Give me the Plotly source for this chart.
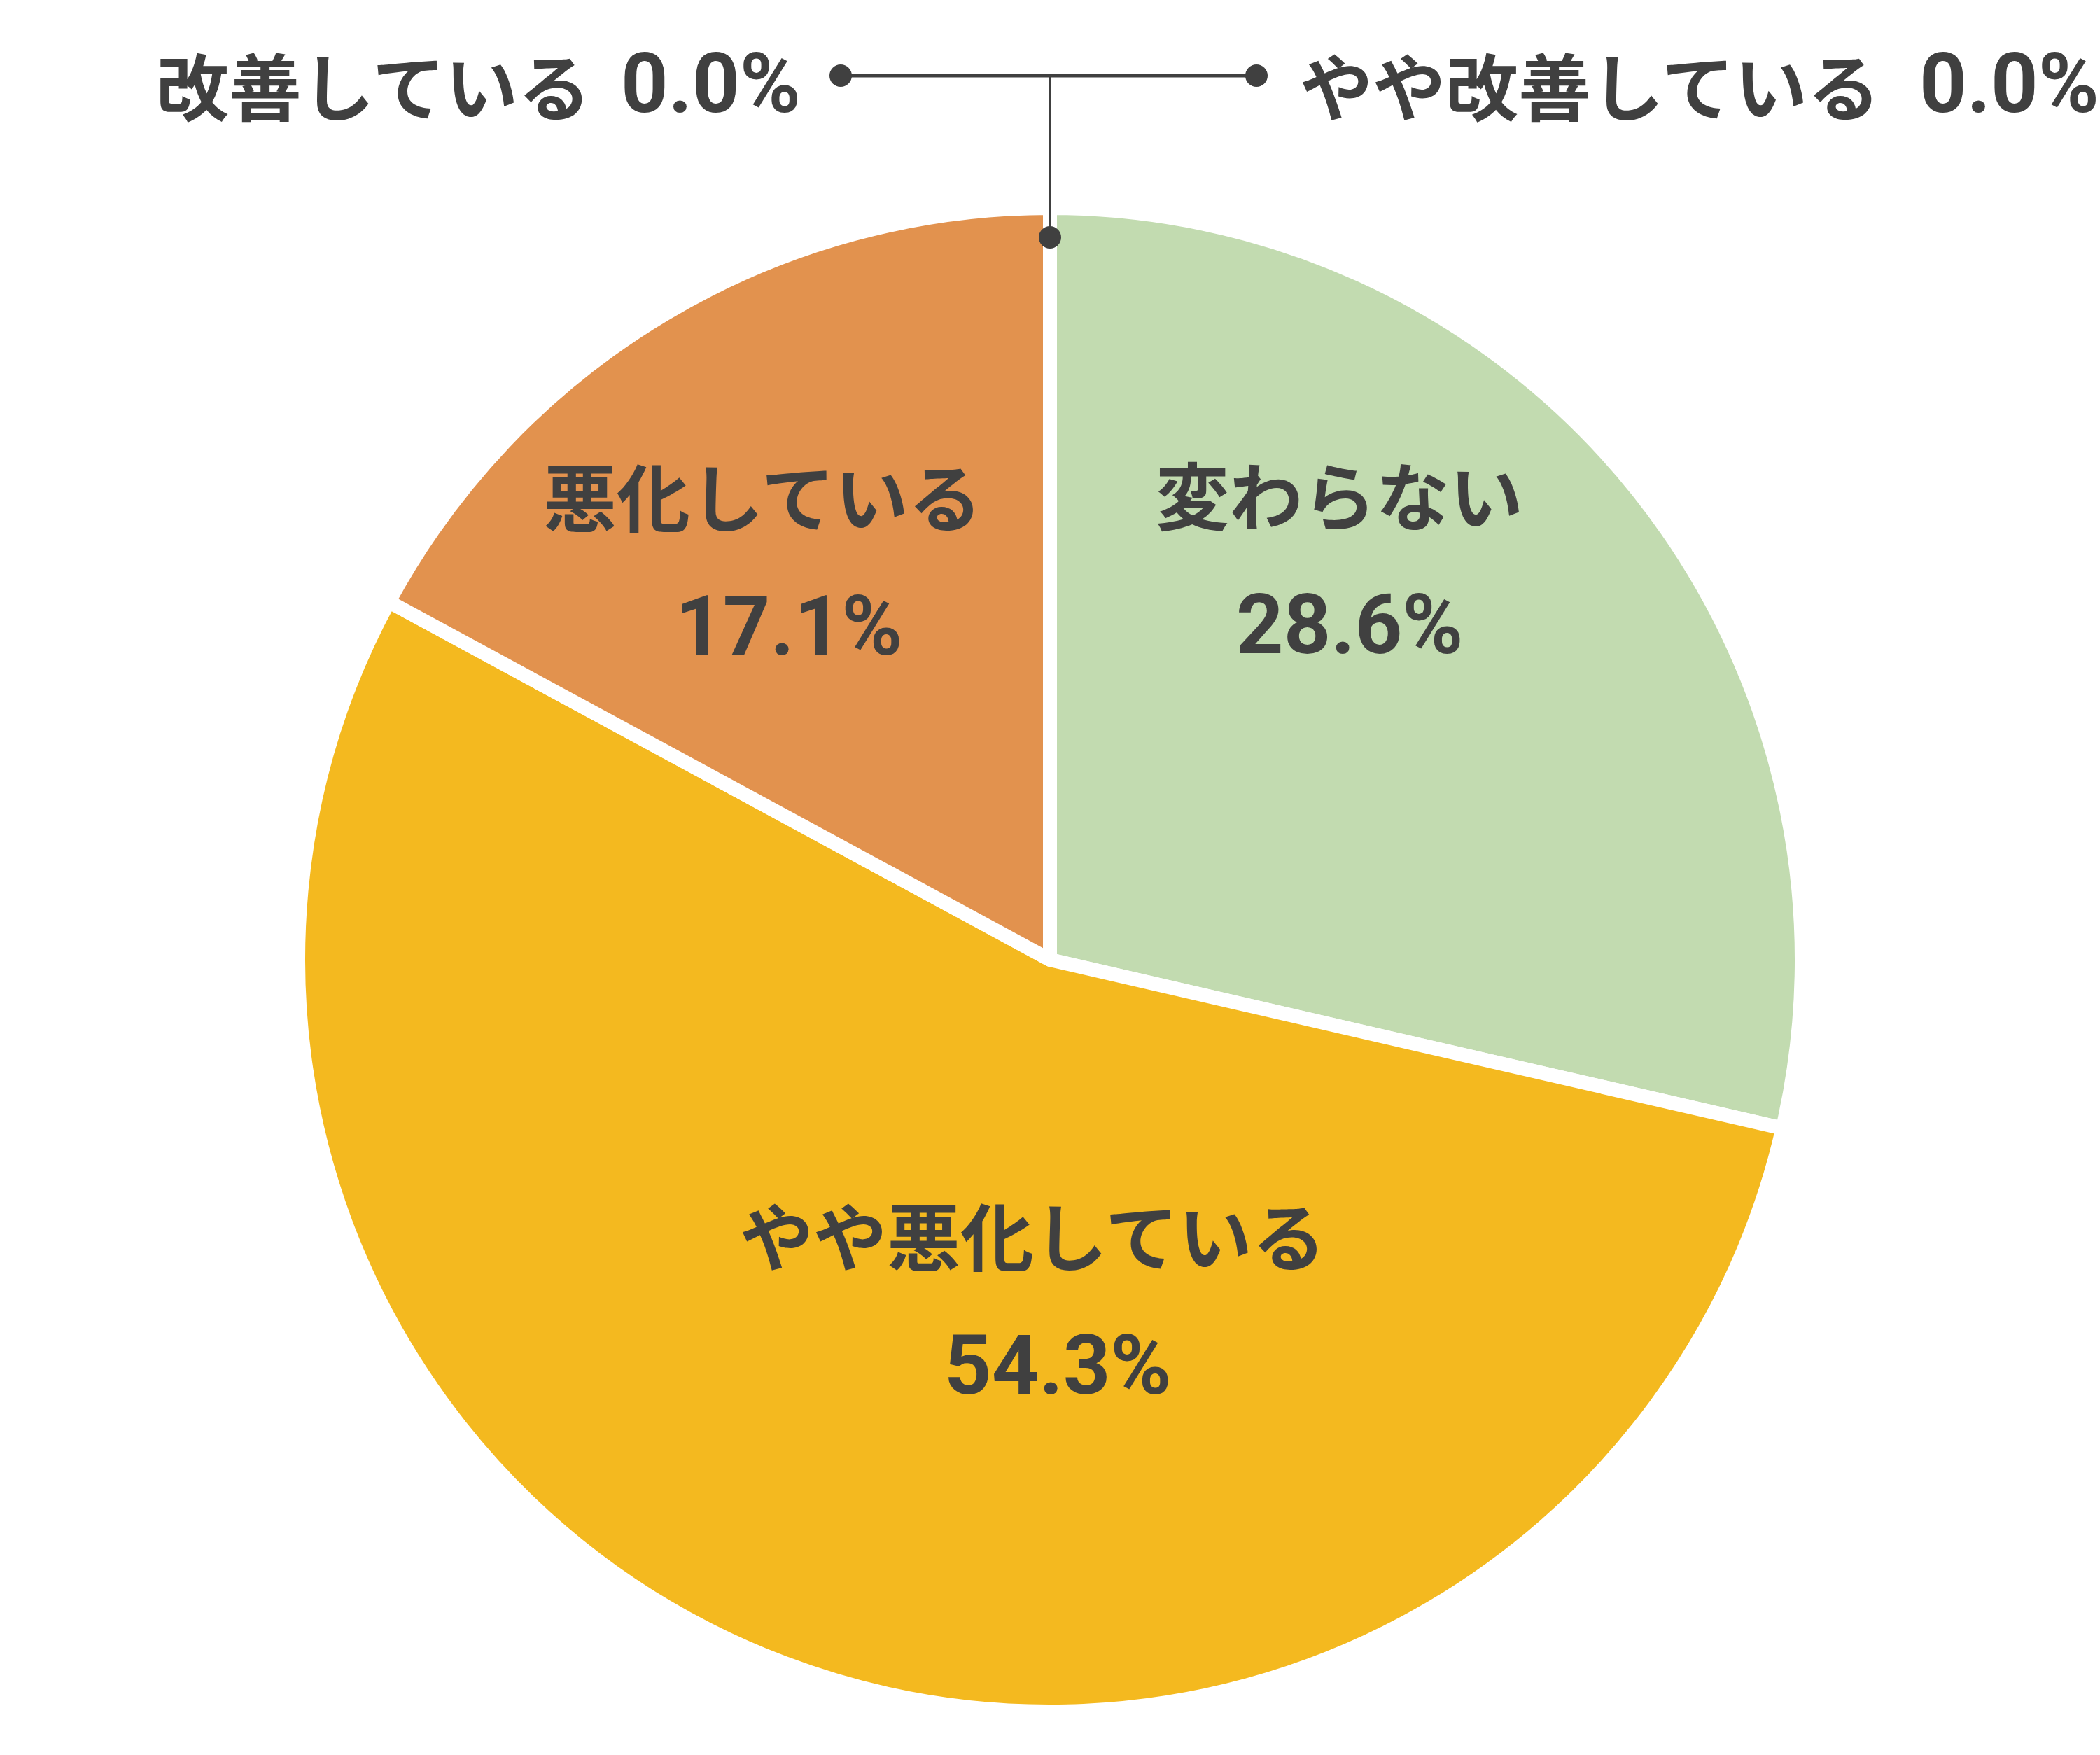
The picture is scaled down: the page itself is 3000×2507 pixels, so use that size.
import plotly.graph_objects as go

# data
labels = ["改善している", "やや改善している", "変わらない", "やや悪化している", "悪化している"]
values = [0.0, 0.0, 28.6, 54.3, 17.1]
colors = ["#9BC27E", "#D6E8C8", "#C2DBB0", "#F4B91F", "#E2924E"]

W, H = 3000, 2507
TXT = "#404040"
JP_FONT = "Noto Sans CJK JP"
NUM_FONT = "Roboto, Noto Sans CJK JP"
BORDER = 20

# pie geometry in pixels (visible radius + half the white border)
cx, cy, r = 1500, 1371, 1064 + BORDER / 2


def px(x):
    return x / W


def py(y):
    return 1 - y / H


fig = go.Figure()
fig.add_trace(go.Pie(
    labels=labels,
    values=values,
    sort=False,
    direction="clockwise",
    rotation=0,
    marker=dict(colors=colors, line=dict(color="white", width=BORDER)),
    textinfo="none",
    hoverinfo="label+percent",
    domain=dict(x=[px(cx - r), px(cx + r)], y=[py(cy + r), py(cy - r)]),
    showlegend=False,
))


def note(x, y, text, family, size, xanchor="center"):
    return dict(x=px(x), y=py(y), text=f"<b>{text}</b>", showarrow=False,
                xref="paper", yref="paper", xanchor=xanchor, yanchor="middle",
                font=dict(family=family, size=size, color=TXT))


# labels inside the non-zero slices (pixel positions of label / value lines)
inside_pos = {
    "変わらない": ((1913, 703), (1928, 893)),
    "やや悪化している": ((1475, 1761), (1511, 1951)),
    "悪化している": ((1089, 705), (1127, 895)),
}
annotations = []
for lab, val in zip(labels, values):
    if lab not in inside_pos:
        continue
    (lx, ly), (vx, vy) = inside_pos[lab]
    annotations.append(note(lx, ly, lab, JP_FONT, 105))
    annotations.append(note(vx, vy, f"{val:.1f}%", NUM_FONT, 118))

# zero slices: leader lines at the top
ly0 = 108
left_dot, right_dot, pie_dot = 1201, 1795, 339
annotations.append(note(846, 119, labels[0], JP_FONT, 104, "right"))
annotations.append(note(1146, 120, f"{values[0]:.1f}%", NUM_FONT, 118, "right"))
annotations.append(note(1855, 119, labels[1], JP_FONT, 104, "left"))
annotations.append(note(2740, 120, f"{values[1]:.1f}%", NUM_FONT, 118, "left"))

shapes = [
    dict(type="line", xref="paper", yref="paper", x0=px(left_dot), x1=px(right_dot),
         y0=py(ly0), y1=py(ly0), line=dict(color=TXT, width=5)),
    dict(type="line", xref="paper", yref="paper", x0=px(cx), x1=px(cx),
         y0=py(ly0), y1=py(pie_dot), line=dict(color=TXT, width=4)),
]
for dx, dy in [(left_dot, ly0), (right_dot, ly0), (cx, pie_dot)]:
    shapes.append(dict(type="circle", xref="paper", yref="paper",
                       x0=px(dx - 16), x1=px(dx + 16), y0=py(dy - 16), y1=py(dy + 16),
                       fillcolor=TXT, line=dict(color=TXT, width=0)))

fig.update_layout(
    width=W, height=H,
    margin=dict(l=0, r=0, t=0, b=0),
    paper_bgcolor="white",
    plot_bgcolor="white",
    annotations=annotations,
    shapes=shapes,
    font=dict(family=JP_FONT, color=TXT),
)

# drop the default page margin so the figure sits at the window corner
fig.write_html("out.html", config={"displayModeBar": False},
               post_script="document.body.style.margin='0';")
